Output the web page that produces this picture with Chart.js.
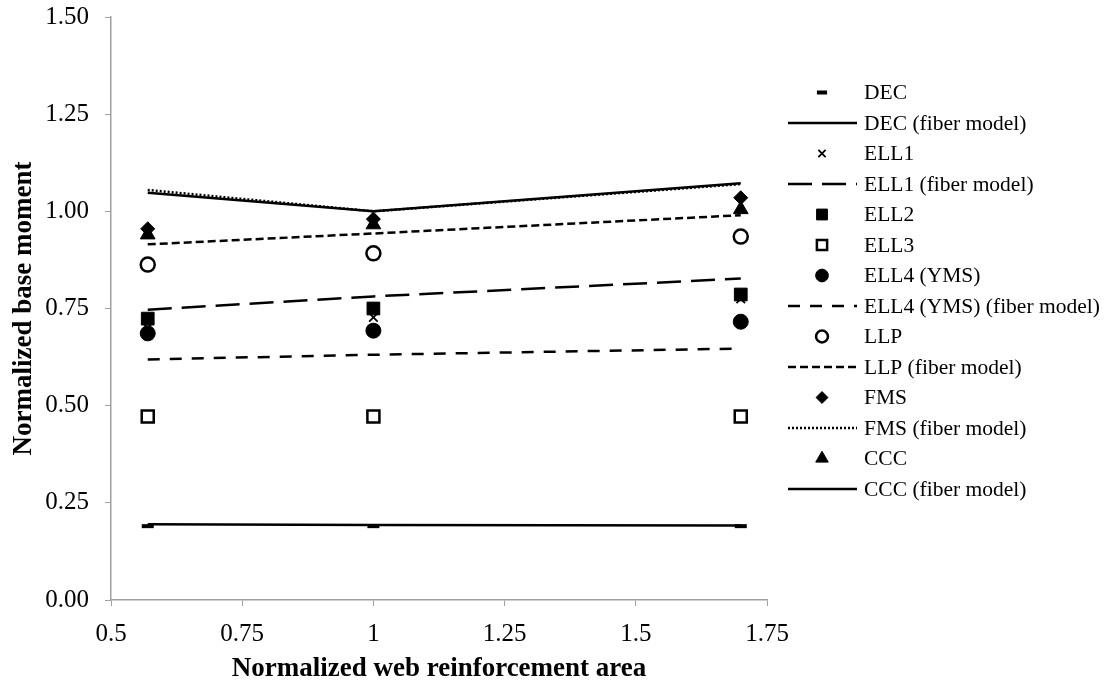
<!DOCTYPE html>
<html lang="en">
<head>
  <meta charset="UTF-8">
  <title>Normalized base moment</title>
  <script src="https://cdn.jsdelivr.net/npm/chart.js"></script>
  <style>
    body { margin: 0; background: #ffffff; }
    .chart-container { position: relative; width: 1106px; height: 684px; }
  </style>
</head>
<body>
<div class="chart-container"><canvas id="momentChart" width="1106" height="684"></canvas></div>

<script>
  // web reinforcement area (normalized)
  const xVals = [0.57, 1.0, 1.70];

  // test results and fiber model results
  const dec       = [0.190, 0.190, 0.190];
  const decFiber  = [0.195, 0.193, 0.192];
  const ell1      = [0.700, 0.727, 0.775];
  const ell1Fiber = [0.747, 0.781, 0.827];
  const ell2      = [0.724, 0.750, 0.786];
  const ell3      = [0.472, 0.472, 0.472];
  const ell4      = [0.686, 0.693, 0.716];
  const ell4Fiber = [0.619, 0.631, 0.647];
  const llp       = [0.863, 0.892, 0.935];
  const llpFiber  = [0.915, 0.943, 0.990];
  const fms       = [0.955, 0.980, 1.035];
  const fmsFiber  = [1.055, 1.000, 1.070];
  const ccc       = [0.940, 0.966, 1.005];
  const cccFiber  = [1.048, 1.000, 1.072];

  const xTicks = [0.5, 0.75, 1, 1.25, 1.5, 1.75];
  const yTicks = [0, 0.25, 0.5, 0.75, 1.0, 1.25, 1.5];

  const FONT = "'Liberation Serif', 'Times New Roman', serif";
  const AXIS = '#a0a0a0';

  const pts = (ys) => ys.map((y, i) => ({ x: xVals[i], y }));

  const marker = (label, data, style, radius, filled, bw) => ({
    label,
    data: pts(data),
    showLine: false,
    pointStyle: style,
    pointRadius: radius,
    pointHoverRadius: radius,
    pointBorderWidth: bw || 2,
    pointBorderColor: '#000',
    pointBackgroundColor: filled ? '#000' : '#fff',
    borderColor: '#000',
    backgroundColor: filled ? '#000' : '#fff'
  });

  const fiber = (label, data, dash, width) => ({
    label,
    data: pts(data),
    showLine: true,
    pointRadius: 0,
    borderColor: '#000',
    borderWidth: width || 2.5,
    borderDash: dash,
    borderCapStyle: 'butt'
  });

  const datasets = [
    marker('DEC', dec, 'line', 6, true, 4),
    fiber('DEC (fiber model)', decFiber, []),
    marker('ELL1', ell1, 'crossRot', 6, true, 1.8),
    fiber('ELL1 (fiber model)', ell1Fiber, [24, 10]),
    marker('ELL2', ell2, 'rect', 9, true, 1),
    marker('ELL3', ell3, 'rect', 8.5, false, 2.5),
    marker('ELL4 (YMS)', ell4, 'circle', 7.5, true, 1),
    fiber('ELL4 (YMS) (fiber model)', ell4Fiber, [12, 10]),
    marker('LLP', llp, 'circle', 7, false, 2.5),
    fiber('LLP (fiber model)', llpFiber, [8, 4]),
    marker('FMS', fms, 'rectRot', 7, true, 1),
    fiber('FMS (fiber model)', fmsFiber, [2, 2]),
    marker('CCC', ccc, 'triangle', 8.5, true, 1),
    fiber('CCC (fiber model)', cccFiber, [])
  ];

  // legend drawn at the right, one row per dataset
  const sideLegend = {
    id: 'sideLegend',
    afterDraw(chart) {
      const ctx = chart.ctx;
      const top = 92.5, step = 30.5;
      ctx.save();
      chart.data.datasets.forEach((ds, i) => {
        const y = top + i * step;
        if (ds.showLine) {
          ctx.beginPath();
          ctx.setLineDash(ds.borderDash || []);
          ctx.lineWidth = ds.borderWidth;
          ctx.strokeStyle = '#000';
          ctx.moveTo(788, y);
          ctx.lineTo(857, y);
          ctx.stroke();
          ctx.setLineDash([]);
        } else if (Chart.helpers && Chart.helpers.drawPoint) {
          const opts = {
            pointStyle: ds.pointStyle,
            radius: ds.pointRadius * 0.85,
            borderWidth: ds.pointBorderWidth,
            rotation: 0
          };
          ctx.fillStyle = ds.pointBackgroundColor;
          ctx.strokeStyle = '#000';
          ctx.lineWidth = ds.pointBorderWidth;
          Chart.helpers.drawPoint(ctx, opts, 822, y);
        }
        ctx.fillStyle = '#000';
        ctx.font = '21.5px ' + FONT;
        ctx.textBaseline = 'middle';
        ctx.textAlign = 'left';
        ctx.fillText(ds.label, 864, y + 1);
      });
      ctx.restore();
    }
  };

  new Chart(document.getElementById('momentChart').getContext('2d'), {
    type: 'scatter',
    data: { datasets },
    options: {
      responsive: false,
      animation: false,
      layout: { padding: { top: 17, right: 339, left: 4, bottom: 0 } },
      plugins: {
        legend: { display: false },
        tooltip: { enabled: false }
      },
      scales: {
        x: {
          type: 'linear',
          min: 0.5,
          max: 1.75,
          afterBuildTicks: (s) => { s.ticks = xTicks.map(v => ({ value: v })); },
          afterFit: (s) => { s.height = 84; },
          ticks: {
            color: '#000',
            font: { family: FONT, size: 25 },
            padding: 13,
            maxRotation: 0,
            callback: (v) => String(v)
          },
          grid: { drawOnChartArea: false, tickLength: 6, tickColor: AXIS },
          border: { color: AXIS, width: 1.5 },
          title: {
            display: true,
            text: 'Normalized web reinforcement area',
            color: '#000',
            padding: { top: 0, bottom: 0 },
            font: { family: FONT, size: 27, weight: 'bold', lineHeight: 1.1 }
          }
        },
        y: {
          type: 'linear',
          min: 0,
          max: 1.5,
          afterBuildTicks: (s) => { s.ticks = yTicks.map(v => ({ value: v })); },
          afterFit: (s) => { s.width = 107; s.paddingTop = 0; s.paddingBottom = 0; },
          ticks: {
            color: '#000',
            font: { family: FONT, size: 25 },
            padding: 16,
            callback: (v) => v.toFixed(2)
          },
          grid: { drawOnChartArea: false, tickLength: 6, tickColor: AXIS },
          border: { color: AXIS, width: 1.5 },
          title: {
            display: true,
            text: 'Normalized base moment',
            color: '#000',
            font: { family: FONT, size: 27, weight: 'bold' }
          }
        }
      }
    },
    plugins: [sideLegend]
  });
</script>
</body>
</html>
